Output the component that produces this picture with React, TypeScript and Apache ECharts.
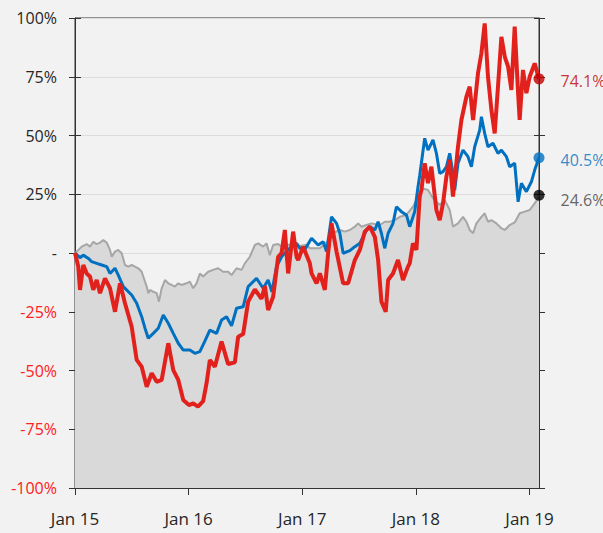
import React, { useEffect, useRef } from "react";
import * as echarts from "echarts";

// x = years since Jan 2015, y = % change
const xTickLabels = ["Jan 15", "Jan 16", "Jan 17", "Jan 18", "Jan 19"];
const xMax = 4.084;

const grayData: [number, number][] = [
  [0, 0], [0.015, 0.6], [0.059, 2.7], [0.103, 3.8], [0.132, 2.7], [0.161, 4.8], [0.191, 3.8], [0.22, 4.4],
  [0.249, 5.5], [0.279, 4.4], [0.308, 1.3], [0.323, -1.6], [0.352, 0.6], [0.381, 1.3], [0.411, -0.1],
  [0.44, -5.1], [0.469, -5.8], [0.499, -5.1], [0.528, -5.8], [0.557, -6.5], [0.587, -8], [0.601, -10],
  [0.631, -14.3], [0.645, -17.1], [0.66, -15.7], [0.689, -16.5], [0.719, -17.1], [0.739, -20.7], [0.763, -15],
  [0.792, -11.5], [0.821, -12.9], [0.85, -13.6], [0.88, -14.3], [0.909, -12.9], [0.938, -13.6], [0.982, -12.9],
  [1.011, -12.2], [1.04, -15], [1.07, -12.9], [1.099, -8.7], [1.128, -10], [1.172, -8], [1.216, -7.2],
  [1.26, -6.5], [1.304, -8], [1.348, -8], [1.378, -9.4], [1.422, -6.5], [1.466, -7.2], [1.495, -4.4],
  [1.539, -1.6], [1.583, 3.4], [1.612, 4.1], [1.656, 2.7], [1.686, 4.1], [1.715, -0.9], [1.744, 3.4],
  [1.788, 3.8], [1.818, 2.7], [1.876, 3.4], [1.935, 4.1], [1.979, 3], [2.038, 3.5], [2.067, 2], [2.155, 2],
  [2.225, 5], [2.272, 8.4], [2.331, 9.8], [2.375, 9.1], [2.419, 9.8], [2.463, 11.2], [2.492, 12.6],
  [2.522, 11.2], [2.566, 11.9], [2.61, 12.6], [2.683, 11.9], [2.727, 13.3], [2.77, 13.3], [2.815, 14],
  [2.859, 15.4], [2.917, 16.2], [2.975, 19.7], [3.005, 22.6], [3.034, 25.4], [3.063, 27.5], [3.107, 26.8],
  [3.151, 23.3], [3.21, 20.4], [3.254, 22.6], [3.298, 18.3], [3.327, 11.2], [3.371, 12.6], [3.415, 15.4],
  [3.445, 13.3], [3.474, 9.8], [3.504, 8.4], [3.533, 12.6], [3.577, 15.4], [3.606, 16.9], [3.635, 13.3],
  [3.665, 14], [3.709, 12.6], [3.753, 10.5], [3.783, 9.8], [3.826, 11.9], [3.87, 13], [3.914, 16.9],
  [3.958, 17.6], [4.002, 18.3], [4.046, 21.1], [4.075, 23.3], [4.084, 24.6],
];

const blueData: [number, number][] = [
  [0, 0], [0.044, -2], [0.073, -0.9], [0.118, -2.3], [0.147, -3.7], [0.191, -4.4], [0.235, -5.1], [0.279, -5.8],
  [0.308, -8.7], [0.352, -6.5], [0.381, -9.4], [0.425, -14.3], [0.499, -17.9], [0.543, -21.4], [0.587, -27.1],
  [0.616, -32], [0.645, -36.3], [0.689, -34.2], [0.733, -32], [0.777, -26.4], [0.821, -29.9], [0.865, -34.2],
  [0.909, -38.4], [0.953, -41.3], [1.011, -41.3], [1.055, -42.7], [1.099, -42], [1.143, -37.5], [1.187, -32.8],
  [1.246, -34.2], [1.29, -28.5], [1.334, -27.1], [1.378, -31], [1.422, -23.5], [1.48, -22.9], [1.524, -14.3],
  [1.598, -10.8], [1.656, -15], [1.7, -11.5], [1.733, -16.5], [1.774, -5.8], [1.818, -1.6], [1.876, 1.5],
  [1.95, 4.1], [1.979, 2], [2.023, 1.5], [2.082, 6.3], [2.14, 3.4], [2.184, 4.8], [2.214, 0.6], [2.258, 15.4],
  [2.302, 12.6], [2.331, 8.4], [2.36, -0.1], [2.419, 1.0], [2.463, 2.7], [2.507, 4.1], [2.566, 9.8],
  [2.595, 11.2], [2.639, 9.8], [2.668, 13.3], [2.697, 8.4], [2.726, 2], [2.756, 8.4], [2.799, 12.6],
  [2.829, 19.7], [2.873, 17.6], [2.917, 16.2], [2.946, 11.2], [2.99, 17.6], [3.019, 28.2], [3.034, 33],
  [3.078, 48.8], [3.107, 43.8], [3.151, 48.1], [3.181, 42.4], [3.21, 33.9], [3.239, 34.6], [3.269, 36.7],
  [3.298, 42.4], [3.327, 33.9], [3.342, 26.8], [3.371, 38.2], [3.415, 43.8], [3.459, 41], [3.489, 36.7],
  [3.518, 45.2], [3.562, 52.3], [3.577, 58], [3.606, 50.9], [3.635, 45.2], [3.679, 46.7], [3.723, 42.4],
  [3.753, 43.8], [3.797, 41], [3.826, 36.7], [3.87, 38.2], [3.9, 21.8], [3.929, 29.7], [3.973, 26.1],
  [4.017, 30.3], [4.046, 35.3], [4.084, 40.5],
];

const redData: [number, number][] = [
  [0, 0], [0.029, -5.8], [0.044, -15.7], [0.073, -5.1], [0.103, -8.7], [0.132, -10], [0.161, -15.7],
  [0.191, -11.5], [0.22, -17.1], [0.264, -10.8], [0.308, -15], [0.352, -25], [0.396, -12.9], [0.44, -21.4],
  [0.499, -31.4], [0.543, -45.5], [0.587, -48.4], [0.631, -56.9], [0.675, -51.2], [0.719, -54.8], [0.763, -54],
  [0.821, -38.4], [0.865, -49.8], [0.909, -54], [0.953, -62.6], [1.003, -64.7], [1.04, -64], [1.082, -65.4],
  [1.128, -63], [1.158, -55.4], [1.187, -45.5], [1.231, -48.4], [1.29, -37.7], [1.348, -47.3], [1.407, -46.5],
  [1.436, -35.6], [1.48, -34.5], [1.524, -20.7], [1.583, -15.5], [1.642, -19.5], [1.671, -14], [1.7, -24.3],
  [1.744, -18.6], [1.788, -1.6], [1.818, 0], [1.847, 9.8], [1.876, -8.7], [1.92, 9.1], [1.95, -1.6],
  [1.964, -3], [2.008, 2.7], [2.067, -4.4], [2.082, -8.7], [2.126, -12.9], [2.155, -8.7], [2.199, -15.7],
  [2.228, 0], [2.258, 12.6], [2.302, 0.6], [2.36, -12.9], [2.404, -12.9], [2.463, -3], [2.507, 1.3],
  [2.551, 9.1], [2.595, 11.2], [2.639, 6.9], [2.668, -3], [2.697, -20.7], [2.735, -25], [2.756, -11.5],
  [2.799, -8.7], [2.843, -3], [2.887, -11.5], [2.931, -5.8], [2.946, -4.4], [2.975, 4.1], [3.005, 1.3],
  [3.034, 24], [3.049, 26.8], [3.078, 38.2], [3.107, 29.7], [3.137, 36.7], [3.181, 18.3], [3.21, 14],
  [3.239, 21.1], [3.269, 32.5], [3.298, 39.6], [3.327, 24], [3.371, 45.2], [3.401, 56.6], [3.445, 66.5],
  [3.474, 70.8], [3.504, 56.6], [3.547, 76.5], [3.577, 85], [3.606, 97.7], [3.635, 75], [3.665, 60.9],
  [3.694, 50.9], [3.723, 70.8], [3.753, 92], [3.783, 83.5], [3.812, 79.3], [3.841, 69.4], [3.87, 96.3],
  [3.9, 68], [3.914, 56.6], [3.943, 77.9], [3.973, 68], [4.002, 75], [4.046, 80.7], [4.084, 74.1],
];

const endLabels = ["74.1%", "40.5%", "24.6%"];
const endValues = [74.1, 40.5, 24.6];

const FONT = "'Open Sans', 'Noto Sans', sans-serif";
const AXIS = "#333333";

export default function App() {
  const ref = useRef<HTMLDivElement>(null);
  useEffect(() => {
    if (!ref.current) return;
    const chart = echarts.init(ref.current, undefined, { renderer: "svg" });
    const yBase = { type: "value", min: -100, max: 100, interval: 25 } as any;
    const endColors = ["#c00000", "#0070c0", "#000000"];
    const endLabelColors = ["#c00000", "#0070c0", "#404040"];
    const endOffsets = [[0, 2], [0, 2], [0, 5]];
    const xTicks = [0, 1, 2, 3, 4];
    chart.setOption({
      animation: false,
      backgroundColor: "#f2f2f2",
      textStyle: { fontFamily: FONT },
      grid: {
        left: 75, right: 64, top: 18, bottom: 45,
        show: true, borderColor: AXIS, borderWidth: 1, backgroundColor: "transparent",
      },
      xAxis: [
        {
          type: "value", min: 0, max: xMax, interval: 1, position: "bottom",
          axisLine: { show: true, onZero: false, lineStyle: { color: AXIS, width: 1 } },
          axisTick: { show: true, length: 7, inside: false, lineStyle: { color: AXIS }, customValues: xTicks },
          axisLabel: {
            show: true, customValues: xTicks,
            formatter: (v: number) => xTickLabels[Math.round(v)] ?? "",
            color: "#262626", fontSize: 17, fontFamily: FONT, margin: 22,
          },
          splitLine: { show: false },
        },
        {
          type: "value", min: 0, max: xMax, interval: 1, position: "bottom",
          axisLine: { show: false, onZero: false },
          axisTick: { show: true, length: 7, inside: true, lineStyle: { color: AXIS }, customValues: xTicks },
          axisLabel: { show: false },
          splitLine: { show: false },
        },
      ],
      yAxis: [
        {
          ...yBase, position: "left",
          axisLine: { show: true, onZero: false, lineStyle: { color: AXIS, width: 1 } },
          axisTick: { show: true, length: 6, inside: false, lineStyle: { color: AXIS } },
          axisLabel: {
            formatter: (v: number) => (v === 0 ? "-" : `${v}%`),
            color: (v: any) => (Number(v) < 0 ? "#ff2020" : "#262626"),
            fontSize: 16, fontFamily: FONT, margin: 18,
          },
          splitLine: { show: true, lineStyle: { color: "#dcdcdc", width: 1 } },
        },
        {
          ...yBase, position: "left",
          axisLine: { show: false, onZero: false },
          axisTick: { show: true, length: 6, inside: true, lineStyle: { color: AXIS } },
          axisLabel: { show: false },
          splitLine: { show: false },
        },
        {
          ...yBase, position: "right",
          axisLine: { show: true, onZero: false, lineStyle: { color: AXIS, width: 1 } },
          axisTick: { show: true, length: 6, inside: false, lineStyle: { color: AXIS } },
          axisLabel: { show: false },
          splitLine: { show: false },
        },
        {
          ...yBase, position: "right",
          axisLine: { show: false, onZero: false },
          axisTick: { show: true, length: 5, inside: true, lineStyle: { color: AXIS } },
          axisLabel: { show: false },
          splitLine: { show: false },
        },
      ],
      series: [
        {
          type: "line", data: grayData, showSymbol: false, symbol: "none", z: 2,
          lineStyle: { color: "#a6a6a6", width: 2 },
          areaStyle: { color: "#d9d9d9", opacity: 1, origin: "start" },
        },
        {
          type: "line", data: blueData, showSymbol: false, symbol: "none", z: 3,
          lineStyle: { color: "#0070c0", width: 3 },
        },
        {
          type: "line", data: redData, showSymbol: false, symbol: "none", z: 4,
          lineStyle: { color: "#e3211c", width: 4 },
        },
        ...endValues.map((v, i) => ({
          type: "scatter", z: 5,
          data: [[xMax, v]],
          symbolSize: 11,
          itemStyle: { color: endColors[i] },
          label: {
            show: true, position: "right", distance: 16,
            formatter: endLabels[i], color: endLabelColors[i],
            fontSize: 16, fontFamily: FONT, offset: endOffsets[i],
          },
        })),
      ],
    } as any);
    return () => chart.dispose();
  }, []);
  return (
    <div
      ref={ref}
      style={{ position: "fixed", left: 0, top: 0, width: 603, height: 533, background: "#f2f2f2" }}
    />
  );
}
